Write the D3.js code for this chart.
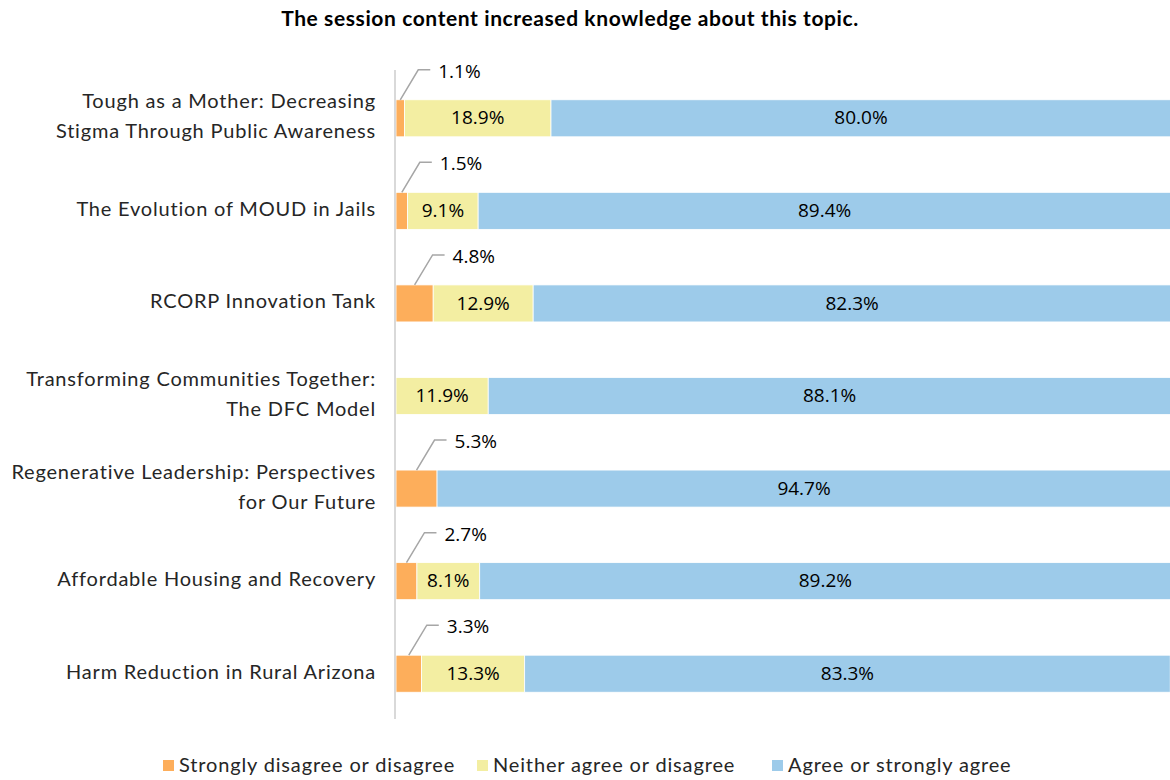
<!DOCTYPE html>
<html>
<head>
<meta charset="utf-8">
<script src="https://cdn.jsdelivr.net/npm/d3@7"></script>
<style>
  html, body { margin: 0; padding: 0; background: #ffffff; }
  svg { display: block; }
</style>
</head>
<body>
<svg id="chart" width="1170" height="780"></svg>
<script>
// Session evaluation: "The session content increased knowledge about this topic."
const sessions = [
  "Tough as a Mother: Decreasing|Stigma Through Public Awareness",
  "The Evolution of MOUD in Jails",
  "RCORP Innovation Tank",
  "Transforming Communities Together:|The DFC Model",
  "Regenerative Leadership: Perspectives|for Our Future",
  "Affordable Housing and Recovery",
  "Harm Reduction in Rural Arizona"
];
const disagree = [1.1, 1.5, 4.8, 0, 5.3, 2.7, 3.3];
const neutral  = [18.9, 9.1, 12.9, 11.9, 0, 8.1, 13.3];
const agree    = [80.0, 89.4, 82.3, 88.1, 94.7, 89.2, 83.3];
const seriesNames = ["Strongly disagree or disagree", "Neither agree or disagree", "Agree or strongly agree"];
const seriesColors = ["#FDAE5B", "#F3EEA2", "#9DCBEA"];
const titleText = "The session content increased knowledge about this topic.";

const svg = d3.select("#chart");
const labelFont = "Lato, 'Noto Sans', sans-serif";
const valueFont = "'Open Sans', 'Noto Sans', sans-serif";

const rows = sessions.map((s, i) => ({
  name: s, values: [disagree[i], neutral[i], agree[i]]
}));

const x = d3.scaleLinear().domain([0, 100]).range([396, 1171]);
const y = d3.scaleBand().domain(d3.range(rows.length)).range([72, 720])
  .paddingInner(0.6).paddingOuter(0.3);

// Title
svg.append("text")
  .attr("x", 570).attr("y", 21)
  .attr("text-anchor", "middle").attr("dominant-baseline", "middle")
  .style("font-family", labelFont).style("font-weight", 700).style("font-size", "21px")
  .style("letter-spacing", "0.6px")
  .attr("fill", "#000")
  .text(titleText);

// Stacked segments
const stack = d3.stack().keys([0, 1, 2]).value((d, k) => d.values[k]);
const layers = stack(rows);

const g = svg.append("g");
layers.forEach((layer, k) => {
  g.selectAll(null).data(layer).enter().append("rect")
    .attr("x", d => x(d[0]))
    .attr("width", d => Math.max(0, x(d[1]) - x(d[0])))
    .attr("y", (d, i) => y(i))
    .attr("height", y.bandwidth())
    .attr("fill", seriesColors[k])
    .attr("stroke", "#ffffff").attr("stroke-width", 0.8);
});

// Value labels inside neutral and agree segments
[1, 2].forEach(k => {
  g.selectAll(null).data(layers[k].filter(d => d[1] - d[0] > 0)).enter().append("text")
    .attr("x", d => (x(d[0]) + x(d[1])) / 2)
    .attr("y", d => y(rows.indexOf(d.data)) + y.bandwidth() / 2 + 1)
    .attr("text-anchor", "middle").attr("dominant-baseline", "middle")
    .style("font-family", valueFont).style("font-size", "19px")
    .attr("fill", "#000")
    .text(d => (d[1] - d[0]).toFixed(1) + "%");
});

// Callouts for small disagree segments
const callouts = layers[0].filter(d => d[1] - d[0] > 0);
callouts.forEach(d => {
  const i = rows.indexOf(d.data);
  const sx = (x(d[0]) + x(d[1])) / 2;
  const sy = y(i);
  const ex = sx + 18, ey = sy - 30;
  svg.append("path")
    .attr("d", `M${sx},${sy}L${ex},${ey}L${ex + 12},${ey}`)
    .attr("fill", "none").attr("stroke", "#a6a6a6").attr("stroke-width", 1.5);
  svg.append("text")
    .attr("x", ex + 20).attr("y", ey + 3)
    .attr("dominant-baseline", "middle")
    .style("font-family", valueFont).style("font-size", "19px")
    .attr("fill", "#000")
    .text((d[1] - d[0]).toFixed(1) + "%");
});

// Category axis line
svg.append("line")
  .attr("x1", 395).attr("x2", 395).attr("y1", 70).attr("y2", 719)
  .attr("stroke", "#d9d9d9").attr("stroke-width", 2);

// Category labels
rows.forEach((r, i) => {
  const lines = r.name.split("|");
  const cy = y(i) + y.bandwidth() / 2;
  const lh = 30;
  const t = svg.append("text")
    .attr("text-anchor", "end")
    .style("font-family", labelFont).style("font-size", "20px")
    .style("letter-spacing", "0.8px")
    .attr("fill", "#262626");
  lines.forEach((ln, j) => {
    t.append("tspan")
      .attr("x", 376)
      .attr("y", cy + (j - (lines.length - 1) / 2) * lh)
      .attr("dominant-baseline", "middle")
      .text(ln);
  });
});

// Legend
const legendX = [163, 477, 772];
const leg = svg.append("g");
seriesNames.forEach((n, k) => {
  leg.append("rect")
    .attr("x", legendX[k]).attr("y", 760).attr("width", 11).attr("height", 11)
    .attr("fill", seriesColors[k]);
  leg.append("text")
    .attr("x", legendX[k] + 16).attr("y", 767)
    .attr("dominant-baseline", "middle")
    .style("font-family", labelFont).style("font-size", "20px")
    .style("letter-spacing", "0.85px")
    .attr("fill", "#262626")
    .text(n);
});
</script>
</body>
</html>
